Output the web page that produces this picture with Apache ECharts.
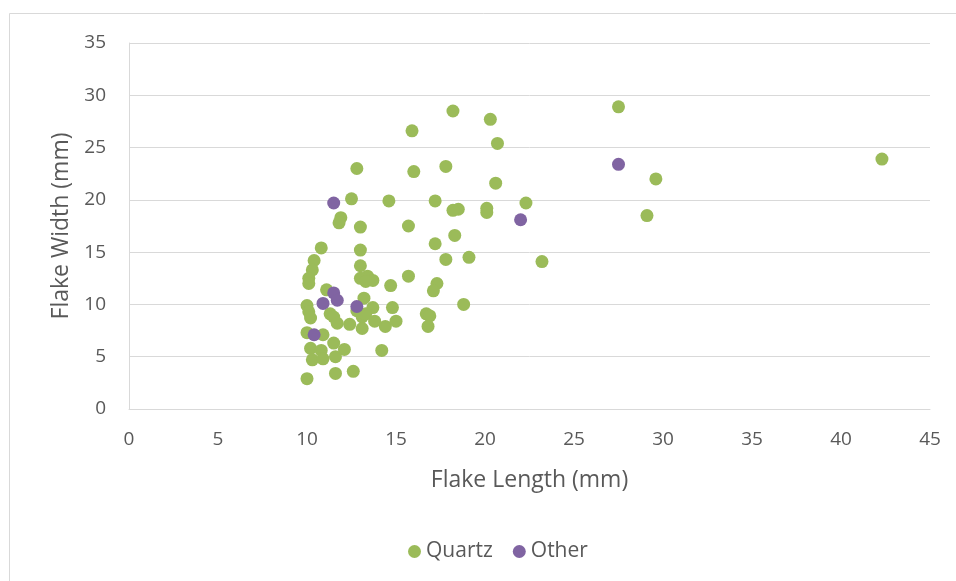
<!DOCTYPE html>
<html>
<head>
<meta charset="utf-8">
<script src="https://cdn.jsdelivr.net/npm/echarts@6/dist/echarts.min.js"></script>
<style>
html,body{margin:0;padding:0;background:#fff;}
#chart{width:956px;height:581px;}
</style>
</head>
<body>
<div id="chart"></div>
<script>
var xTicks = [0,5,10,15,20,25,30,35,40,45];
var yTicks = [0,5,10,15,20,25,30,35];

var quartzLength = [27.5,18.2,20.3,15.9,20.7,42.3,12.8,17.8,16.0,29.6,20.6,12.5,14.6,17.2,22.3,20.1,18.5,18.2,20.1,29.1,
  11.9,11.8,15.7,13.0,18.3,10.8,17.2,13.0,19.1,17.8,23.2,10.4,10.3,13.0,15.7,10.1,10.1,13.0,13.4,13.7,
  13.3,17.3,17.1,11.1,14.7,13.2,18.8,10.0,10.1,13.7,14.8,16.7,16.9,16.8,11.3,11.5,10.2,12.8,13.1,13.3,
  13.8,11.7,12.4,13.1,14.4,15.0,10.0,10.9,11.5,12.1,10.2,10.8,10.3,10.9,11.6,14.2,10.0,11.6,12.6];
var quartzWidth = [28.9,28.5,27.7,26.6,25.4,23.9,23.0,23.2,22.7,22.0,21.6,20.1,19.9,19.9,19.7,19.2,19.1,19.0,18.8,18.5,
  18.3,17.8,17.5,17.4,16.6,15.4,15.8,15.2,14.5,14.3,14.1,14.2,13.3,13.7,12.7,12.5,12.0,12.5,12.7,12.3,
  12.2,12.0,11.3,11.4,11.8,10.6,10.0,9.9,9.3,9.7,9.7,9.1,8.9,7.9,9.1,8.8,8.7,9.4,8.8,9.1,
  8.4,8.2,8.1,7.7,7.9,8.4,7.3,7.1,6.3,5.7,5.8,5.6,4.7,4.8,5.0,5.6,2.9,3.4,3.6];

var otherLength = [27.5,11.5,22.0,11.5,11.7,10.9,12.8,10.4];
var otherWidth = [23.4,19.7,18.1,11.1,10.4,10.1,9.8,7.1];

function pairs(xs, ys){ return xs.map(function(v,i){ return [v, ys[i]]; }); }

var FONT = 'Open Sans';
var chart = echarts.init(document.getElementById('chart'));
chart.setOption({
  animation: false,
  backgroundColor: '#ffffff',
  textStyle: {fontFamily: FONT},
  graphic: [{
    type: 'rect', silent: true,
    shape: {x: 9.5, y: 13.5, width: 960, height: 600},
    style: {fill: 'none', stroke: '#d9d9d9', lineWidth: 1}
  }],
  grid: {left: 129, right: 26, top: 43, bottom: 172, containLabel: false},
  xAxis: {
    type: 'value', min: xTicks[0], max: xTicks[xTicks.length-1], interval: 5,
    name: 'Flake Length (mm)', nameLocation: 'middle', nameGap: 60,
    nameTextStyle: {color: '#595959', fontSize: 23, fontFamily: FONT},
    axisLine: {show: true, lineStyle: {color: '#d9d9d9', width: 1}},
    axisTick: {show: false},
    axisLabel: {color: '#595959', fontSize: 19, margin: 21, fontFamily: FONT},
    splitLine: {show: false}
  },
  yAxis: {
    type: 'value', min: yTicks[0], max: yTicks[yTicks.length-1], interval: 5,
    name: 'Flake Width (mm)', nameLocation: 'middle', nameGap: 55,
    nameTextStyle: {color: '#595959', fontSize: 23, fontFamily: FONT},
    axisLine: {show: true, lineStyle: {color: '#d9d9d9', width: 1}},
    axisTick: {show: false},
    axisLabel: {color: '#595959', fontSize: 19, margin: 23, fontFamily: FONT},
    splitLine: {show: true, lineStyle: {color: '#d9d9d9', width: 1}}
  },
  legend: {
    bottom: 14, left: 403, itemGap: 20, itemWidth: 13, itemHeight: 13,
    icon: 'circle',
    textStyle: {color: '#595959', fontSize: 21, fontFamily: FONT},
    data: ['Quartz', 'Other']
  },
  series: [
    {name: 'Quartz', type: 'scatter', symbol: 'circle', symbolSize: 13,
     itemStyle: {color: '#9bbb59', opacity: 1}, data: pairs(quartzLength, quartzWidth)},
    {name: 'Other', type: 'scatter', symbol: 'circle', symbolSize: 13,
     itemStyle: {color: '#8064a2', opacity: 1}, data: pairs(otherLength, otherWidth)}
  ]
});
</script>
</body>
</html>
